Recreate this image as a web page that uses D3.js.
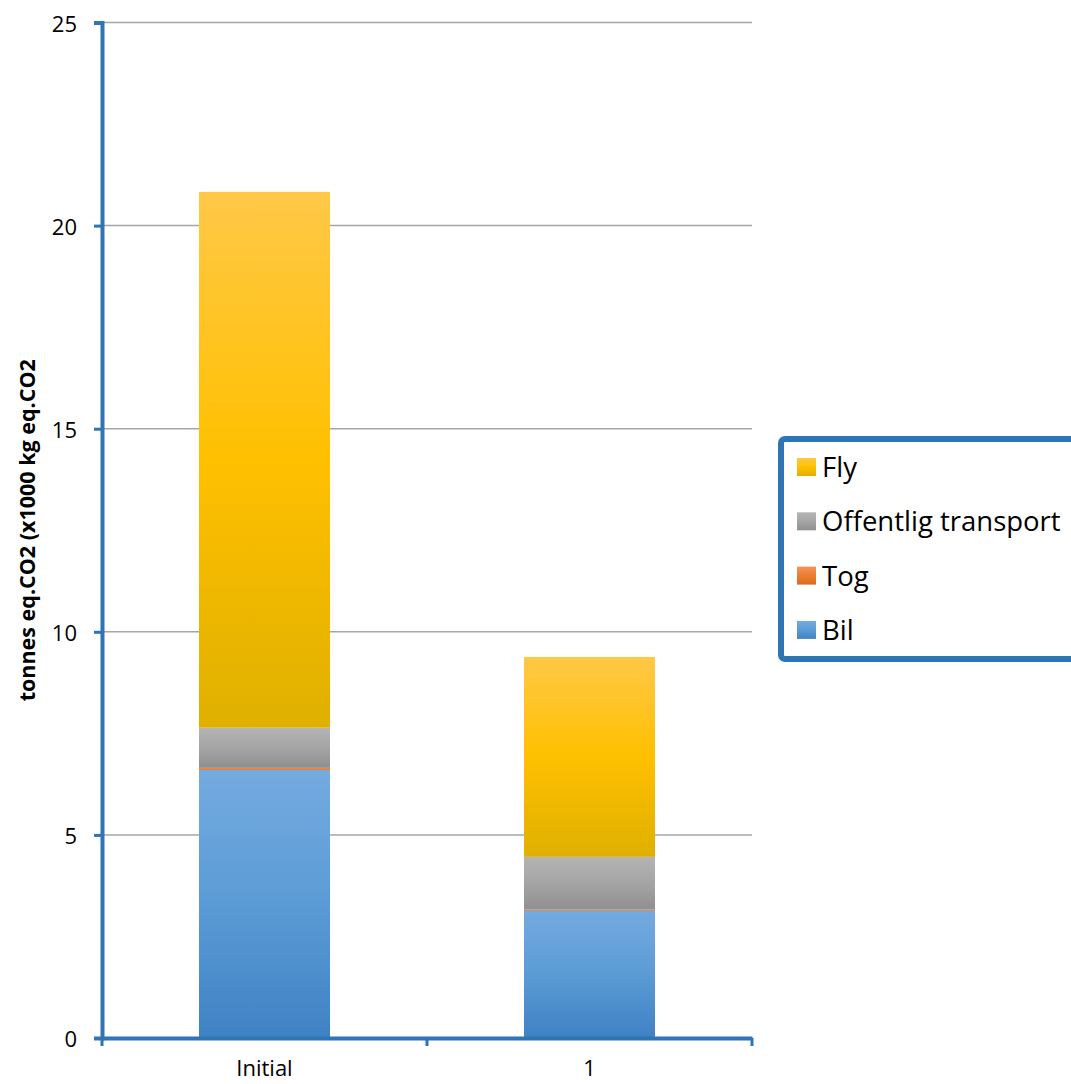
<!DOCTYPE html>
<html>
<head>
<meta charset="utf-8">
<script src="https://cdn.jsdelivr.net/npm/d3@7"></script>
<style>
  html, body { margin: 0; padding: 0; background: #ffffff; }
  svg { display: block; }
</style>
</head>
<body>
<div id="chart"></div>
<script>
// Emissions per travel mode, tonnes eq.CO2
const categories = ["Initial", "1"];
const seriesNames = ["Bil", "Tog", "Offentlig transport", "Fly"];
const bil = [6.60, 3.13];
const tog = [0.05, 0.03];
const offentlig = [0.99, 1.30];
const fly = [13.19, 4.92];
const yTicks = [0, 5, 10, 15, 20, 25];
const yTitle = "tonnes eq.CO2 (x1000 kg eq.CO2";

const W = 1071, H = 1084;
const margin = { left: 102, right: 319, top: 22.5, bottom: 46 };
const plotW = W - margin.left - margin.right;     // 650
const plotH = H - margin.top - margin.bottom;     // 1015.5

// gradient stops per series: light top, full middle, darker bottom
const palette = {
  "Bil": ["#74abe0", "#5b9bd5", "#3f82c4"],
  "Tog": ["#f4955a", "#ed7d31", "#d96a20"],
  "Offentlig transport": ["#b4b4b4", "#a5a5a5", "#8f8f8f"],
  "Fly": ["#ffc847", "#ffc000", "#dfb000"]
};

const svg = d3.select("#chart").append("svg")
  .attr("width", W).attr("height", H);

const defs = svg.append("defs");
const gid = name => "grad-" + name.replace(/\s+/g, "-");
seriesNames.forEach(name => {
  const g = defs.append("linearGradient").attr("id", gid(name))
    .attr("x1", 0).attr("y1", 0).attr("x2", 0).attr("y2", 1);
  const c = palette[name];
  g.append("stop").attr("offset", "0%").attr("stop-color", c[0]);
  g.append("stop").attr("offset", "50%").attr("stop-color", c[1]);
  g.append("stop").attr("offset", "100%").attr("stop-color", c[2]);
});

const rows = categories.map((cat, i) => ({
  cat,
  "Bil": bil[i],
  "Tog": tog[i],
  "Offentlig transport": offentlig[i],
  "Fly": fly[i]
}));
const stacked = d3.stack().keys(seriesNames)(rows);

const x = d3.scaleBand().domain(categories)
  .range([margin.left, margin.left + plotW]).paddingInner(0).paddingOuter(0);
const y = d3.scaleLinear().domain([0, 25])
  .range([margin.top + plotH, margin.top]);

const barW = x.bandwidth() * 131 / 325;
const barX = c => x(c) + (x.bandwidth() - barW) / 2;

// horizontal gridlines
svg.append("g").selectAll("line")
  .data(yTicks.filter(t => t > 0))
  .join("line")
  .attr("x1", margin.left).attr("x2", margin.left + plotW)
  .attr("y1", d => y(d)).attr("y2", d => y(d))
  .attr("stroke", "#a6a6a6").attr("stroke-width", 1.5);

// stacked bars
svg.append("g").selectAll("g")
  .data(stacked)
  .join("g")
  .attr("fill", d => `url(#${gid(d.key)})`)
  .selectAll("rect")
  .data(d => d)
  .join("rect")
  .attr("x", d => barX(d.data.cat))
  .attr("width", barW)
  .attr("y", d => y(d[1]))
  .attr("height", d => y(d[0]) - y(d[1]));

const axisColor = "#2e75b6";
const font = "'Open Sans', sans-serif";

// y axis
const yAxis = svg.append("g")
  .attr("transform", `translate(${margin.left},0)`)
  .call(d3.axisLeft(y).tickValues(yTicks).tickSize(8).tickPadding(17).tickFormat(d3.format("d")));
yAxis.select(".domain").attr("stroke", axisColor).attr("stroke-width", 4);
yAxis.selectAll(".tick line").attr("stroke", axisColor).attr("stroke-width", 3);
yAxis.selectAll(".tick text")
  .attr("fill", "#000").attr("dy", "0.4em")
  .style("font-family", font).style("font-size", "22px");

// x axis
const xAxis = svg.append("g")
  .attr("transform", `translate(0,${y(0)})`)
  .call(d3.axisBottom(x).tickSize(0).tickPadding(22));
xAxis.select(".domain").attr("stroke", axisColor).attr("stroke-width", 4);
xAxis.selectAll(".tick text")
  .attr("fill", "#000").style("font-family", font).style("font-size", "22px");

// category boundary ticks
const bounds = [margin.left, ...categories.map(c => x(c) + x.bandwidth())];
svg.append("g").selectAll("line")
  .data(bounds)
  .join("line")
  .attr("x1", d => d).attr("x2", d => d)
  .attr("y1", y(0)).attr("y2", y(0) + 8)
  .attr("stroke", axisColor).attr("stroke-width", 3);

// y axis title
svg.append("text")
  .attr("transform", `translate(35,${margin.top + plotH / 2}) rotate(-90)`)
  .attr("text-anchor", "middle")
  .style("font-family", font)
  .style("font-weight", "bold")
  .style("font-size", "21.5px")
  .text(yTitle);

// legend
const legend = svg.append("g");
legend.append("rect")
  .attr("x", 781).attr("y", 439)
  .attr("width", 310).attr("height", 220)
  .attr("rx", 4)
  .attr("fill", "#fff")
  .attr("stroke", axisColor).attr("stroke-width", 6);

const legendOrder = seriesNames.slice().reverse();
const legendRows = legend.selectAll("g.item")
  .data(legendOrder)
  .join("g").attr("class", "item")
  .attr("transform", (d, i) => `translate(797,${467 + i * 54.3})`);
legendRows.append("rect")
  .attr("x", 0).attr("y", -9).attr("width", 19).attr("height", 18)
  .attr("fill", d => `url(#${gid(d)})`);
legendRows.append("text")
  .attr("x", 25).attr("y", 0).attr("dy", "0.36em")
  .style("font-family", font)
  .style("font-size", "27.5px")
  .text(d => d);
</script>
</body>
</html>
